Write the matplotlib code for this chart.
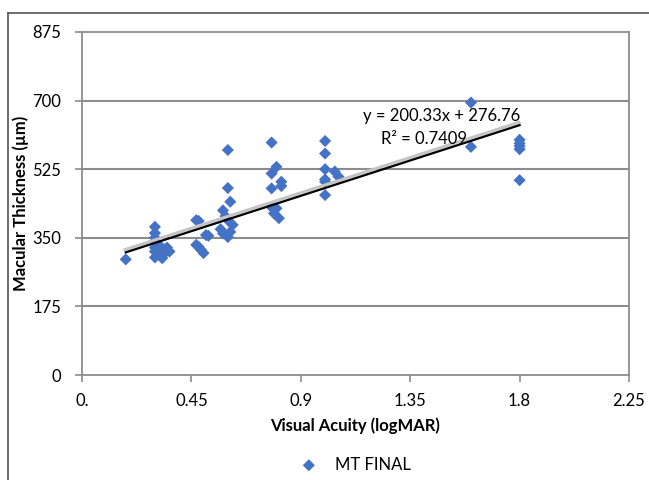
import matplotlib
matplotlib.use("Agg")
import matplotlib.pyplot as plt
import matplotlib.patheffects as pe
import numpy as np

plt.rcParams['font.family'] = ['Lato', 'DejaVu Sans']

# Visual acuity (logMAR) and macular thickness (µm)
va = [0.18,
      0.30, 0.30, 0.30, 0.30, 0.32, 0.30, 0.34, 0.30, 0.34, 0.32, 0.36, 0.33, 0.30, 0.35,
      0.47, 0.48, 0.51, 0.52, 0.47, 0.48, 0.49, 0.50,
      0.60, 0.60, 0.61, 0.58, 0.59, 0.60, 0.62, 0.57, 0.58, 0.61, 0.60,
      0.78, 0.80, 0.78, 0.82, 0.82, 0.78, 0.78, 0.80, 0.79, 0.81,
      1.00, 1.00, 1.00, 1.00, 1.00, 1.04, 1.055, 1.00,
      1.60, 1.60,
      1.80, 1.80, 1.80, 1.80, 1.80]
mt = [295,
      378, 362, 350, 340, 330, 325, 320, 315, 310, 305, 315, 298, 300, 325,
      395, 393, 357, 355, 332, 327, 319, 311,
      574, 477, 442, 420, 405, 395, 383, 372, 361, 365, 352,
      593, 531, 514, 493, 482, 476, 428, 425, 412, 400,
      597, 565, 525, 499, 493, 519, 506, 459,
      695, 582,
      600, 591, 584, 576, 497]

slope, intercept = 200.33, 276.76
x_ticks = [0.0, 0.45, 0.9, 1.35, 1.8, 2.25]
x_tick_labels = ["0.", "0.45", "0.9", "1.35", "1.8", "2.25"]
y_ticks = [0, 175, 350, 525, 700, 875]

blue = '#4472C4'
fig = plt.figure(figsize=(6.49, 4.80), dpi=100)

# outer chart border
fig.add_artist(plt.Line2D([0.013, 0.013], [0.0, 0.973], transform=fig.transFigure,
                          color='#555555', lw=1.2))
fig.add_artist(plt.Line2D([0.013, 1.0], [0.973, 0.973], transform=fig.transFigure,
                          color='#555555', lw=1.2))

ax = fig.add_axes([0.1263, 0.21875, 0.8429, 0.7146])
ax.set_xlim(0, 2.25)
ax.set_ylim(0, 875)

for yv in y_ticks[1:-1]:
    ax.axhline(yv, color='#8c8c8c', lw=1.5, zorder=1)

ax.scatter(va, mt, marker='D', s=38, color=blue, edgecolors='none', zorder=3,
           label='MT FINAL')

xl = np.array([min(va), max(va)])
ax.plot(xl, slope * xl + intercept, color='black', lw=1.6, zorder=4,
        path_effects=[pe.SimpleLineShadow(offset=(-0.5, 2.0), shadow_color='#c4c4c4',
                                          alpha=1.0, linewidth=2.2),
                      pe.Normal()])

ax.text(1.155, 660, "y = 200.33x + 276.76", fontsize=12, ha='left', va='center', zorder=5)
ax.text(1.23, 603, "R² = 0.7409", fontsize=12, ha='left', va='center', zorder=5)

for sp in ax.spines.values():
    sp.set_color('#8c8c8c')
    sp.set_linewidth(1.3)

ax.set_xticks(x_ticks)
ax.set_xticklabels(x_tick_labels)
ax.set_yticks(y_ticks)
ax.tick_params(axis='both', direction='out', length=5, color='#8c8c8c', width=1.2,
               labelsize=12, colors='#8c8c8c', labelcolor='black')
ax.tick_params(axis='x', pad=8)
ax.tick_params(axis='y', pad=10)

ax.set_xlabel("Visual Acuity (logMAR)", fontsize=12, fontweight='bold', labelpad=6)
ax.set_ylabel("Macular Thickness (µm)", fontsize=12, fontweight='bold', labelpad=2)

leg = fig.legend(loc='center', bbox_to_anchor=(0.542, 0.032), frameon=False,
                 fontsize=12, handletextpad=0.6, markerscale=1.0)

fig.savefig("out.png", dpi=100)
